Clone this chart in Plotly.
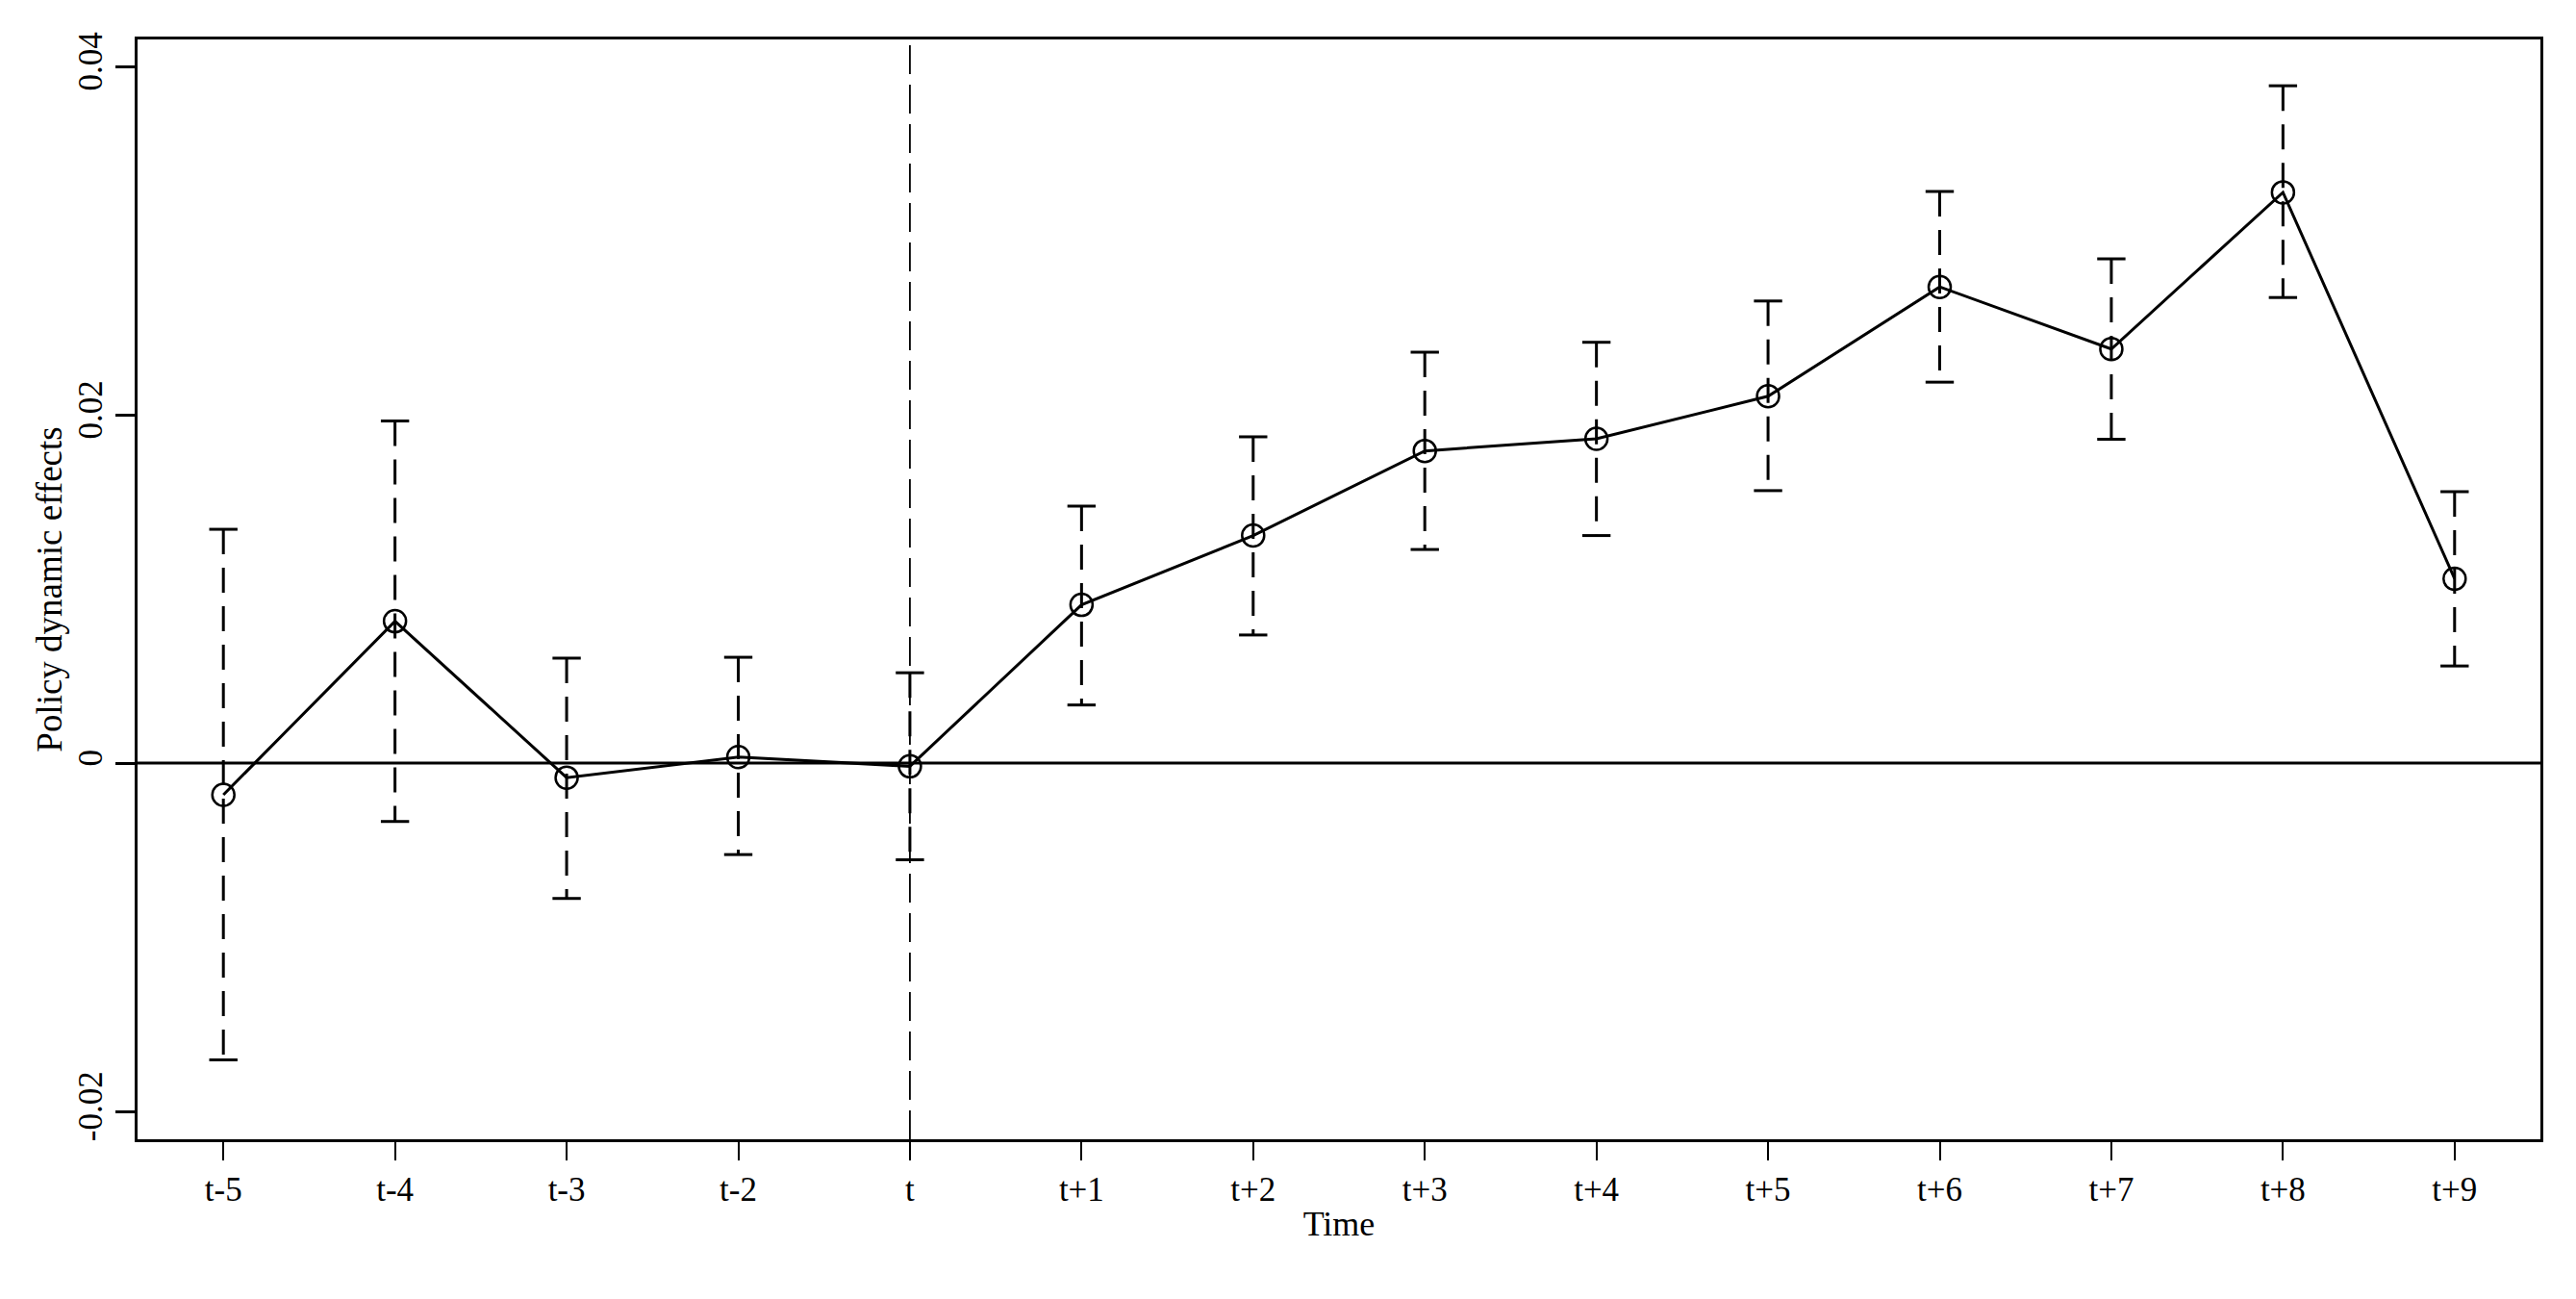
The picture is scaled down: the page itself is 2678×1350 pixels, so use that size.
import plotly.graph_objects as go

# ---- data ----
periods = ["t-5", "t-4", "t-3", "t-2", "t", "t+1", "t+2", "t+3", "t+4", "t+5", "t+6", "t+7", "t+8", "t+9"]
estimate = [-0.00182, 0.00815, -0.00083, 0.00035, -0.00018, 0.00909, 0.01307, 0.01793, 0.01863, 0.02107, 0.02735, 0.02378, 0.03278, 0.01059]
upper_ci = [0.01343, 0.01965, 0.00603, 0.00608, 0.00519, 0.01476, 0.01874, 0.02360, 0.02417, 0.02654, 0.03283, 0.02896, 0.03890, 0.01559]
lower_ci = [-0.01704, -0.00335, -0.00777, -0.00525, -0.00555, 0.00334, 0.00736, 0.01227, 0.01307, 0.01565, 0.02188, 0.01860, 0.02674, 0.00558]
y_tick_vals = [-0.02, 0, 0.02, 0.04]
y_tick_text = ["-0.02", "0", "0.02", "0.04"]
event_period = "t"

xpos = list(range(len(periods)))
event_x = periods.index(event_period)

FONT = "Liberation Serif, Times New Roman, serif"

# dashed vertical CI segments
seg_x, seg_y = [], []
for xi, lo, hi in zip(xpos, lower_ci, upper_ci):
    seg_x += [xi, xi, None]
    seg_y += [hi, lo, None]

fig = go.Figure()
fig.add_trace(go.Scatter(
    x=seg_x, y=seg_y, mode="lines",
    line=dict(color="black", width=3, dash="26px,14px"),
    hoverinfo="skip", showlegend=False))
fig.add_trace(go.Scatter(
    x=xpos + xpos, y=upper_ci + lower_ci, mode="markers",
    marker=dict(symbol="line-ew", size=21, line=dict(color="black", width=3)),
    hoverinfo="skip", showlegend=False))
fig.add_trace(go.Scatter(
    x=xpos, y=estimate, mode="lines+markers",
    line=dict(color="black", width=3),
    marker=dict(symbol="circle-open", size=23, color="black", line=dict(color="black", width=2.5)),
    showlegend=False))

# zero line and event line
fig.add_shape(type="line", xref="paper", yref="y", x0=0, x1=1, y0=0, y1=0,
              line=dict(color="black", width=3), layer="above")
fig.add_shape(type="line", xref="x", yref="paper", x0=event_x, x1=event_x, y0=0, y1=1,
              line=dict(color="black", width=1.8, dash="30px,11px"), layer="above")

fig.update_layout(
    width=2678, height=1350,
    margin=dict(l=143, r=37, t=41, b=166),
    paper_bgcolor="white", plot_bgcolor="white",
    font=dict(family=FONT, size=35, color="black"),
    showlegend=False,
)
fig.update_xaxes(
    range=[-0.5, len(periods) - 0.5],
    tickmode="array", tickvals=xpos, ticktext=periods,
    showgrid=False, zeroline=False, automargin=False,
    showline=True, mirror=True, linecolor="black", linewidth=3,
    ticks="outside", ticklen=19, tickwidth=2, tickcolor="black",
    tickfont=dict(family=FONT, size=35),
    title=dict(text="Time", font=dict(family=FONT, size=36), standoff=4),
)
fig.update_yaxes(
    range=[-0.0216, 0.04156],
    tickmode="array", tickvals=y_tick_vals, ticktext=y_tick_text,
    tickangle=-90,
    showgrid=False, zeroline=False, automargin=False,
    showline=True, mirror=True, linecolor="black", linewidth=3,
    ticks="outside", ticklen=20, tickwidth=3, tickcolor="black",
    tickfont=dict(family=FONT, size=35),
    title=dict(text="Policy dynamic effects", font=dict(family=FONT, size=37), standoff=0),
)

fig.write_html(
    "out.html",
    config={"displayModeBar": False},
    post_script="document.body.style.margin='0';document.body.style.overflow='hidden';",
)
